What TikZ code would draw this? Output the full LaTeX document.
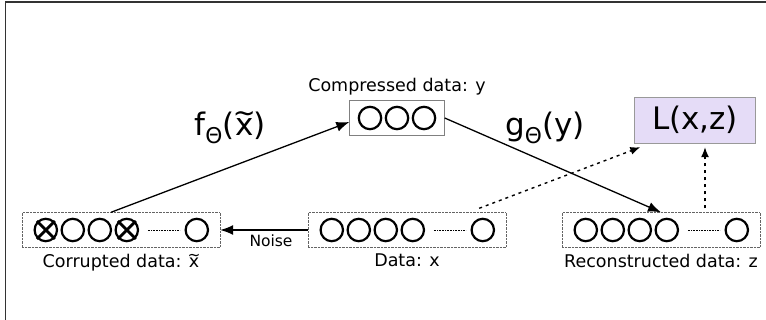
\documentclass[tikz,border=0pt]{standalone}
\usepackage{fontspec}
\usepackage{graphicx}
\setmainfont{DejaVu Sans}
\usetikzlibrary{arrows.meta, positioning}
\definecolor{lossfill}{RGB}{229,220,247}
\definecolor{boxline}{RGB}{100,100,100}
% x with a wide tilde over it
\newcommand{\tildex}{\ooalign{x\cr\hidewidth\raisebox{0.43em}{\scalebox{0.88}[0.9]{\char"7E}}\hidewidth\cr}}

\begin{document}
\begin{tikzpicture}[x=1pt, y=-1pt,
    layer/.style={draw=boxline, densely dotted, minimum width=198pt, minimum height=35pt, inner sep=0pt},
    code/.style={draw=gray, minimum width=95pt, minimum height=35pt, inner sep=0pt},
    ring/.style={line width=2.2pt},
    cross/.style={line width=2.8pt},
    gap/.style={densely dotted, line width=0.6pt},
    txt/.style={font=\fontsize{17.5}{20}\selectfont},
    small/.style={font=\fontsize{15.5}{18}\selectfont},
    big/.style={font=\fontsize{31}{36}\selectfont},
    link/.style={-{Latex[length=13pt, width=10pt]}, line width=1.3pt},
    hint/.style={-{Latex[length=10pt, width=8pt]}, line width=1.4pt, dash pattern=on 3pt off 4pt}]
    \useasboundingbox (0,0) rectangle (766,320);
    \draw[line width=1.6pt, black!80] (5.5,320) -- (5.5,2) -- (766,2);

    % Layers
    \node[layer] (cor) at (121,230) {};
    \node[layer] (dat) at (407,230) {};
    \node[layer] (rec) at (661,230) {};
    \node[code] (cmp) at (397,118) {};
    \node[draw=gray!80, fill=lossfill, minimum width=121pt, minimum height=46pt, big] (loss) at (695,120) {L(x,z)};

    % Units
    \foreach \n in {cor, dat, rec} {
        \foreach \i in {0,...,3}
            \draw[ring] ([xshift=24+27*\i]\n.west) circle (11.2pt);
        \draw[gap] ([xshift=126pt]\n.west) -- ([xshift=158pt]\n.west);
        \draw[ring] ([xshift=175pt]\n.west) circle (11.2pt);
    }
    \foreach \i in {-1,0,1}
        \draw[ring] ([xshift=27*\i]cmp.center) circle (11.2pt);
    \foreach \i in {0,3}
        \draw[cross] ([xshift=24+27*\i]cor.west) ++(-9,-9) -- ++(18,18) ++(0,-18) -- ++(-18,18);

    % Labels
    \node[txt, above=2pt of cmp] (cmplab) {Compressed data: y};
    \node[txt, below=3pt of cor] (corlab) {Corrupted data: \tildex};
    \node[txt, below=3pt of dat] (datlab) {Data: x};
    \node[txt, below=3pt of rec] (reclab) {Reconstructed data: z};

    % Encoder, decoder, noise
    \draw[link] ([xshift=-10pt]cor.north) -- ([yshift=-4pt]cmp.west);
    \node[big] (enc) at (230,128) {f\textsubscript{Θ}(\tildex)};
    \draw[link] (cmp.east) -- (rec.north);
    \node[big] (dec) at (545,128) {g\textsubscript{Θ}(y)};
    \draw[link] (dat.west) -- (cor.east) node[pos=0.42, below=1pt, small] (noise) {Noise};

    % Loss
    \coordinate (up) at ([xshift=44pt]rec.north |- loss.south);
    \draw[hint] ([xshift=-27pt, yshift=4pt]dat.north east) -- ([xshift=6pt, yshift=-4pt]loss.south west);
    \draw[hint] ([xshift=44pt, yshift=4pt]rec.north) -- ([yshift=-4pt]up);
\end{tikzpicture}
\end{document}
